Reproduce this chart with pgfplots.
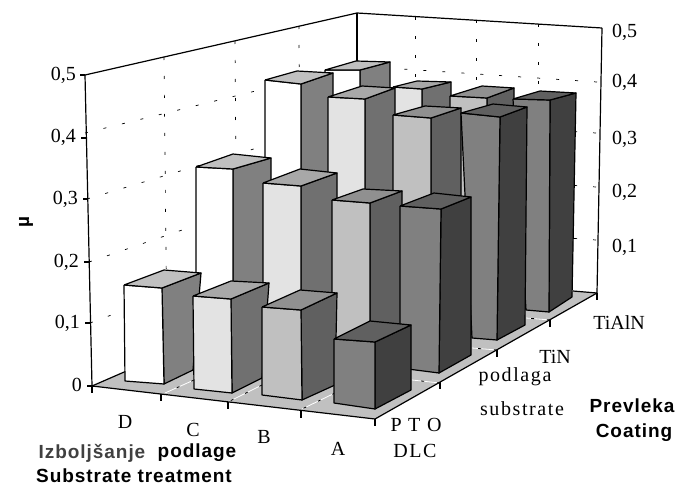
\documentclass[border=0pt]{standalone}
\usepackage{fontspec}
\setmainfont{Liberation Serif}
\newfontfamily\spaced[LetterSpace=8]{Liberation Serif}
\newfontfamily\lab[LetterSpace=5]{Liberation Sans}
\usepackage{pgfplots}
\pgfplotsset{compat=1.18}

% colours per treatment
\definecolor{frontD}{gray}{1.00}\definecolor{sideD}{HTML}{808080}\definecolor{topD}{HTML}{C0C0C0}
\definecolor{frontC}{HTML}{E3E3E3}\definecolor{sideC}{HTML}{707070}\definecolor{topC}{HTML}{A8A8A8}
\definecolor{frontB}{HTML}{C0C0C0}\definecolor{sideB}{HTML}{606060}\definecolor{topB}{HTML}{909090}
\definecolor{frontA}{HTML}{808080}\definecolor{sideA}{HTML}{404040}\definecolor{topA}{HTML}{606060}

% treatment, front top left, bottom left, bottom mid, top mid, right top, right bottom, back top
\newcommand\cuboid[8]{%
  \addplot[draw=black,line width=1.2pt,line join=round,fill=side#1] coordinates {#5 #6 #7 #4 #5};
  \addplot[draw=black,line width=1.2pt,line join=round,fill=front#1] coordinates {#2 #3 #4 #5 #2};
  \addplot[draw=black,line width=1.2pt,line join=round,fill=top#1] coordinates {#2 #5 #6 #8 #2};
}
\newcommand\wallgrid[2]{\addplot[black,line width=0.7pt,dash pattern=on 3pt off 16pt] coordinates {#1 #2};}
\newcommand\frameline[2]{\addplot[black,line width=1.2pt] coordinates {#1 #2};}
\newcommand\floorgrid[2]{%
  \addplot[white,line width=0.8pt] coordinates {#1 #2};
  \addplot[black,line width=0.8pt,dash pattern=on 3pt off 13pt] coordinates {#2 #1};
}
\tikzset{
  num/.style={font=\fontsize{20}{24}\selectfont,inner sep=0pt},
  ttl/.style={font=\fontsize{19}{22}\selectfont\bfseries\lab,inner sep=0pt},
}

\begin{document}
\begin{tikzpicture}
\begin{axis}[
  scale only axis, width=677pt, height=487pt,
  xmin=0, xmax=677, ymin=0, ymax=487, y dir=reverse,
  hide axis, clip=false,
]
\path (axis cs:0,0) rectangle (axis cs:677,487);
% floor
\addplot[draw=none,fill=frontB] coordinates {(92,386) (354,272) (597,293) (375,419) (92,386)};
% walls, dotted grid
\wallgrid{(85,133)}{(357,66)}
\wallgrid{(87,199)}{(357,118)}
\wallgrid{(89,262)}{(357,170)}
\wallgrid{(90,323)}{(357,223)}
\wallgrid{(597,82)}{(357,66)}
\wallgrid{(596,133)}{(357,118)}
\wallgrid{(596,187)}{(357,170)}
\wallgrid{(596,240)}{(357,223)}
\wallgrid{(164,57)}{(167,352)}
\wallgrid{(235,41)}{(237,320)}
\wallgrid{(299,26)}{(300,295)}
\wallgrid{(415,17)}{(415,280)}
\wallgrid{(476,20)}{(476,285)}
\wallgrid{(538,24)}{(538,290)}
\frameline{(85,75)}{(357,13)}
\frameline{(357,13)}{(602,28)}
\frameline{(357,13)}{(357,275)}
\frameline{(85,75)}{(92,386)}
\frameline{(602,28)}{(597,293)}
\frameline{(92,386)}{(354,272)}
\frameline{(573,291)}{(597,293)}
% floor grid in front of the bars
\floorgrid{(165,393)}{(194,380)}
\floorgrid{(228,402)}{(262,385)}
\floorgrid{(302,409)}{(335,393)}
\floorgrid{(412,380)}{(440,383)}
\floorgrid{(472,348)}{(497,350)}
\floorgrid{(526,318)}{(550,320)}
% row TiAlN
\cuboid{D}{(325,70)}{(325,291)}{(360,293)}{(360,70)}{(390,62)}{(390,277)}{(356,61)}
\cuboid{C}{(393,87)}{(393,297)}{(422,299)}{(422,89)}{(451,82)}{(451,283)}{(417,81)}
\cuboid{B}{(450,96)}{(450,303)}{(487,306)}{(487,98)}{(514,88)}{(514,290)}{(482,86)}
\cuboid{A}{(513,99)}{(526,310)}{(549,312)}{(550,100)}{(576,93)}{(572,297)}{(540,91)}
% row TiN
\cuboid{D}{(265,80)}{(265,317)}{(301,320)}{(301,84)}{(333,73)}{(333,303)}{(297,71)}
\cuboid{C}{(328,97)}{(328,323)}{(365,326)}{(365,99)}{(395,88)}{(395,310)}{(362,86)}
\cuboid{B}{(393,115)}{(393,330)}{(431,333)}{(431,118)}{(461,108)}{(461,317)}{(425,106)}
\cuboid{A}{(461,113)}{(472,338)}{(497,340)}{(500,117)}{(527,107)}{(525,325)}{(493,104)}
% row substrate
\cuboid{D}{(196,167)}{(196,347)}{(233,351)}{(233,169)}{(271,158)}{(271,333)}{(233,154)}
\cuboid{C}{(263,183)}{(263,353)}{(301,357)}{(301,186)}{(337,173)}{(337,340)}{(300,169)}
\cuboid{B}{(332,200)}{(332,360)}{(370,364)}{(370,203)}{(402,191)}{(402,347)}{(363,189)}
\cuboid{A}{(400,206)}{(400,368)}{(439,373)}{(441,209)}{(471,197)}{(471,355)}{(434,193)}
% row DLC
\cuboid{D}{(124,285)}{(125,381)}{(164,384)}{(162,288)}{(201,273)}{(193,370)}{(164,270)}
\cuboid{C}{(193,296)}{(194,389)}{(232,393)}{(231,299)}{(269,283)}{(262,378)}{(231,281)}
\cuboid{B}{(262,307)}{(262,395)}{(302,400)}{(301,310)}{(337,293)}{(335,385)}{(300,290)}
\cuboid{A}{(334,339)}{(334,403)}{(375,409)}{(375,342)}{(411,325)}{(411,390)}{(370,321)}
% front floor edges and ticks
\frameline{(92,386)}{(375,419)}
\frameline{(375,419)}{(597,293)}
\frameline{(80,75)}{(85,75)}
\frameline{(81,138)}{(86,138)}
\frameline{(83,199)}{(88,199)}
\frameline{(84,262)}{(89,262)}
\frameline{(85,323)}{(90,323)}
\frameline{(87,386)}{(92,386)}
\frameline{(92,386)}{(92,393)}
\frameline{(161,394)}{(161,401)}
\frameline{(228,402)}{(228,409)}
\frameline{(301,410)}{(301,418)}
\frameline{(375,419)}{(375,426)}
\frameline{(440,382)}{(440,389)}
\frameline{(497,350)}{(497,357)}
\frameline{(550,320)}{(550,327)}
\frameline{(597,293)}{(597,300)}
% value labels
\node[num,anchor=east] at (76,75) {0,5};
\node[num,anchor=east] at (76,137) {0,4};
\node[num,anchor=east] at (78,199) {0,3};
\node[num,anchor=east] at (79,262) {0,2};
\node[num,anchor=east] at (80,323) {0,1};
\node[num,anchor=east] at (82,385) {0};
\node[num,anchor=west] at (612,32) {0,5};
\node[num,anchor=west] at (612,82) {0,4};
\node[num,anchor=west] at (612,139) {0,3};
\node[num,anchor=west] at (612,192) {0,2};
\node[num,anchor=west] at (612,247) {0,1};
% category labels
\node[num] at (125,422) {D};
\node[num] at (193,430) {C};
\node[num] at (264,437) {B};
\node[num] at (338,449) {A};
\node[num] at (416,425) {\spaced P T O};
\node[num] at (415,451) {\spaced DLC};
\node[num] at (515,377) {\spaced podlaga};
\node[num] at (522,409) {\spaced substrate};
\node[num] at (555,357) {TiN};
\node[num] at (619,323) {TiAlN};
% axis titles
\node[ttl,rotate=90] at (26,222) {µ};
\node[ttl,text=black!75] at (92,453) {Izboljšanje};
\node[ttl] at (197,453) {podlage};
\node[ttl] at (134,476) {Substrate treatment};
\node[ttl] at (632,406) {Prevleka};
\node[ttl] at (634,433) {Coating};
\end{axis}
\end{tikzpicture}
\end{document}
